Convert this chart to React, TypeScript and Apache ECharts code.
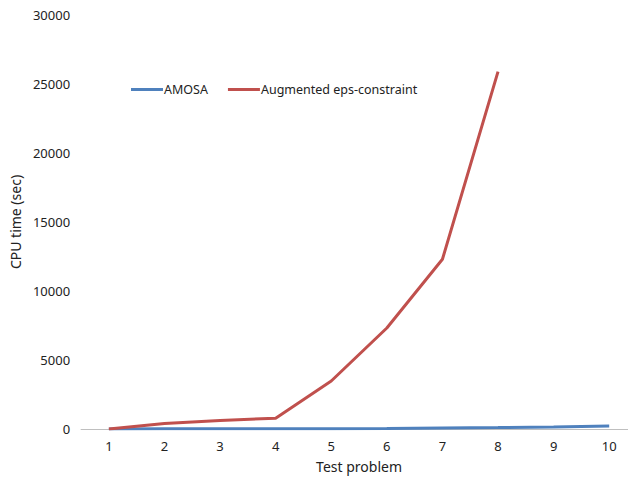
import React, { useEffect, useRef } from "react";
import * as echarts from "echarts";

const categories = ["1", "2", "3", "4", "5", "6", "7", "8", "9", "10"];
const amosa = [5, 10, 15, 20, 25, 40, 80, 100, 150, 220];
const augmented = [0, 400, 620, 780, 3480, 7320, 12300, 25900, null, null];
const yTicks = { min: 0, max: 30000, interval: 5000 };

const FONT = "'Noto Sans', 'Open Sans', sans-serif";

export default function App() {
  const ref = useRef<HTMLDivElement>(null);
  useEffect(() => {
    document.body.style.margin = "0";
    const chart = echarts.init(ref.current!, null, { renderer: "svg" });
    chart.setOption({
      animation: false,
      backgroundColor: "#ffffff",
      textStyle: { fontFamily: FONT },
      legend: {
        left: 126,
        top: 78,
        itemWidth: 32,
        itemHeight: 3,
        itemGap: 20,
        icon: "rect",
        textStyle: { fontFamily: FONT, fontSize: 12.5, color: "#222", padding: [0, 0, 0, -4] },
        data: ["AMOSA", "Augmented eps-constraint"],
      },
      grid: { left: 81, width: 556, top: 15, bottom: 50, containLabel: false },
      xAxis: {
        type: "category",
        data: categories,
        boundaryGap: true,
        name: "Test problem",
        nameLocation: "middle",
        nameGap: 30,
        nameTextStyle: { fontFamily: FONT, fontSize: 14, color: "#222" },
        axisLine: { lineStyle: { color: "#bfbfbf", width: 1 } },
        axisTick: { show: false },
        axisLabel: { fontFamily: FONT, fontSize: 13, color: "#222", margin: 10 },
      },
      yAxis: {
        type: "value",
        min: yTicks.min,
        max: yTicks.max,
        interval: yTicks.interval,
        name: "CPU time (sec)",
        nameLocation: "middle",
        nameGap: 56,
        nameRotate: 90,
        nameTextStyle: { fontFamily: FONT, fontSize: 14, color: "#222" },
        axisLine: { show: false },
        axisTick: { show: false },
        splitLine: { show: false },
        axisLabel: {
          fontFamily: FONT,
          fontSize: 13,
          color: "#222",
          margin: 11,
          formatter: (v: number) => String(v),
        },
      },
      series: [
        {
          name: "AMOSA",
          type: "line",
          data: amosa,
          symbol: "none",
          lineStyle: { color: "#4F81BD", width: 3 },
          itemStyle: { color: "#4F81BD" },
        },
        {
          name: "Augmented eps-constraint",
          type: "line",
          data: augmented,
          symbol: "none",
          lineStyle: { color: "#C0504D", width: 3 },
          itemStyle: { color: "#C0504D" },
        },
      ],
    });
    return () => chart.dispose();
  }, []);
  return (
    <div style={{ width: 628, height: 479, overflow: "hidden", position: "relative" }}>
      <div ref={ref} style={{ width: 650, height: 479 }} />
    </div>
  );
}
